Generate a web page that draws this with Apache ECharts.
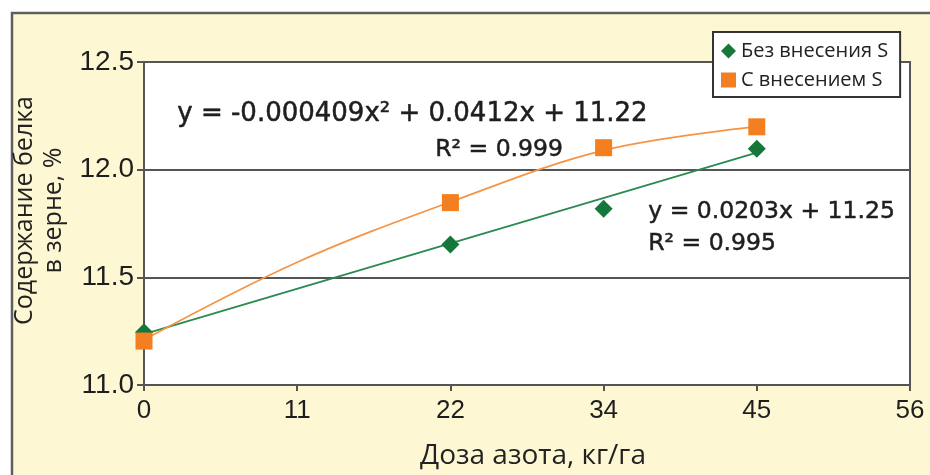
<!DOCTYPE html>
<html>
<head>
<meta charset="utf-8">
<script src="https://cdn.jsdelivr.net/npm/echarts@6/dist/echarts.min.js"></script>
<style>html,body{margin:0;padding:0;background:#fff;}#c{width:930px;height:475px;}</style>
</head>
<body>
<div id="c"></div>
<script>
// Data
const xLabels = ['0', '11', '22', '34', '45', '56'];
const seriesNames = ['Без внесения S', 'С внесением S'];
const withoutS = [11.245, null, 11.653, 11.819, 12.097, null];
const withS = [11.204, null, 11.847, 12.102, 12.199, null];
// trend lines as drawn in the picture
const trendWithout = [11.236, null, null, null, 12.079, null];
const trendWith = [11.21, 11.57, 11.85, 12.09, 12.20, null];
const yTicks = { min: 11.0, max: 12.5, step: 0.5 };
const eqWith = 'y = -0.000409x² + 0.0412x + 11.22';
const r2With = 'R² = 0.999';
const eqWithout = 'y = 0.0203x + 11.25';
const r2Without = 'R² = 0.995';
const xName = 'Доза азота, кг/га';
const yName = 'Содержание белка\nв зерне, %';

const GREEN = '#15773a';
const ORANGE = '#f47f20';
const FONT = "'Liberation Sans', Arial, sans-serif";
const EQFONT_L = "26px 'DejaVu Sans', sans-serif";
const EQFONT_S = "23.5px 'DejaVu Sans', sans-serif";
const eqStyle = (text, font) => ({ text, font, fill: '#1e1e1e', stroke: '#1e1e1e', lineWidth: 0.5 });

const chart = echarts.init(document.getElementById('c'), null, { renderer: 'canvas' });
chart.setOption({
  animation: false,
  backgroundColor: '#ffffff',
  graphic: [
    { type: 'rect', z: -10, silent: true,
      shape: { x: 12, y: 13, width: 940, height: 480 },
      style: { fill: '#fdf8d3', stroke: '#5f5f5f', lineWidth: 2.5 } },
    { type: 'text', z: 50, left: 177, top: 101, style: eqStyle(eqWith, EQFONT_L) },
    { type: 'text', z: 50, left: 435, top: 138, style: eqStyle(r2With, EQFONT_S) },
    { type: 'text', z: 50, left: 648, top: 200, style: eqStyle(eqWithout, EQFONT_S) },
    { type: 'text', z: 50, left: 648, top: 232, style: eqStyle(r2Without, EQFONT_S) }
  ],
  grid: {
    left: 144, right: 20, top: 62, bottom: 89,
    show: true, backgroundColor: '#ffffff', borderColor: '#555555', borderWidth: 2
  },
  legend: {
    orient: 'vertical',
    left: 713, top: 32,
    padding: [9, 12, 7, 8],
    itemGap: 9,
    itemWidth: 15, itemHeight: 15,
    backgroundColor: '#ffffff',
    borderColor: '#333333', borderWidth: 2,
    textStyle: { fontFamily: "'Open Sans', sans-serif", fontSize: 20, color: '#222' },
    data: [
      { name: seriesNames[0], icon: 'diamond' },
      { name: seriesNames[1], icon: 'rect' }
    ]
  },
  xAxis: {
    type: 'category',
    data: xLabels,
    boundaryGap: false,
    name: xName,
    nameLocation: 'middle',
    nameGap: 57,
    nameTextStyle: { fontFamily: "'Open Sans', sans-serif", fontSize: 28, color: '#222', padding: [0, 0, 0, 12] },
    axisLine: { lineStyle: { color: '#555', width: 2 } },
    axisTick: { show: true, length: 6, inside: false, lineStyle: { color: '#555', width: 2 } },
    axisLabel: { fontFamily: FONT, fontSize: 26, color: '#1e1e1e', margin: 13 },
    splitLine: { show: false }
  },
  yAxis: {
    type: 'value',
    min: yTicks.min, max: yTicks.max, interval: yTicks.step,
    name: yName,
    nameLocation: 'middle',
    nameGap: 70,
    nameTextStyle: { fontFamily: "'Open Sans', sans-serif", fontSize: 25, color: '#222', lineHeight: 29,
      padding: [0, 0, 0, 26] },
    axisLine: { show: true, lineStyle: { color: '#555', width: 2 } },
    axisTick: { show: true, length: 7, inside: false, lineStyle: { color: '#555', width: 2 } },
    axisLabel: { fontFamily: FONT, fontSize: 28, color: '#1e1e1e', margin: 10,
      formatter: v => v.toFixed(1) },
    splitLine: { show: true, lineStyle: { color: '#555', width: 2 } }
  },
  series: [
    { name: 'trend0', type: 'line', data: trendWithout, connectNulls: true,
      showSymbol: false, symbol: 'none', lineStyle: { color: '#2a8a4f', width: 1.8 }, z: 3 },
    { name: 'trend1', type: 'line', data: trendWith, smooth: 0.35,
      showSymbol: false, symbol: 'none', lineStyle: { color: '#f59444', width: 1.8 }, z: 3 },
    { name: seriesNames[0], type: 'scatter', data: withoutS, symbol: 'diamond', symbolSize: 18,
      itemStyle: { color: GREEN, opacity: 1 }, z: 5 },
    { name: seriesNames[1], type: 'scatter', data: withS, symbol: 'rect', symbolSize: 17,
      itemStyle: { color: ORANGE, opacity: 1 }, z: 6 }
  ]
});
</script>
</body>
</html>
